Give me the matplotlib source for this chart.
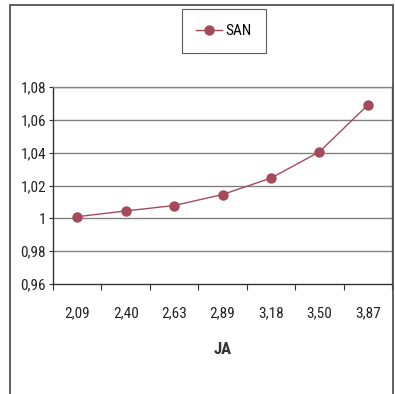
import matplotlib
matplotlib.use("Agg")
import matplotlib.pyplot as plt
from matplotlib.patches import Rectangle
from matplotlib.ticker import FixedLocator

plt.rcParams['font.family'] = ['Roboto Condensed', 'Liberation Sans', 'DejaVu Sans']

categories = ["2,09", "2,40", "2,63", "2,89", "3,18", "3,50", "3,87"]
san = [1.001, 1.0045, 1.0078, 1.0145, 1.0245, 1.0405, 1.069]
yticks = [0.96, 0.98, 1.00, 1.02, 1.04, 1.06, 1.08]
ytick_labels = ["0,96", "0,98", "1", "1,02", "1,04", "1,06", "1,08"]
series_name = "SAN"
xlabel = "JA"

W, H = 395, 394
fig = plt.figure(figsize=(W / 100, H / 100), dpi=100)
ax = fig.add_axes([53 / W, 1 - 284 / H, (392 - 53) / W, (284 - 87) / H])

color = "#A34B5B"
x = list(range(len(categories)))
line, = ax.plot(x, san, color=color, lw=1.0, marker="o", markersize=6.5,
                markerfacecolor=color, markeredgecolor=color, label=series_name, zorder=3)

ax.set_xlim(-0.5, len(categories) - 0.5)
ax.set_ylim(yticks[0], yticks[-1])
ax.set_yticks(yticks)
ax.set_yticklabels(ytick_labels)
for v in yticks[1:]:
    ax.axhline(v, color="#808080", lw=1.0, zorder=1)

ax.xaxis.set_major_locator(FixedLocator([i - 0.5 for i in range(len(categories) + 1)]))
ax.set_xticklabels([])
ax.xaxis.set_minor_locator(FixedLocator(x))
ax.set_xticks(x, minor=True)
ax.set_xticklabels(categories, minor=True)
ax.tick_params(axis="x", which="minor", length=0, pad=16, labelsize=11, colors="#222222")
ax.tick_params(axis="x", which="major", length=4, direction="out", color="#333333")
ax.tick_params(axis="y", length=3, direction="out", pad=2, labelsize=11, color="#333333", labelcolor="#222222")

for s in ["top", "right"]:
    ax.spines[s].set_color("#8a8580")
    ax.spines[s].set_linewidth(1.0)
for s in ["left", "bottom"]:
    ax.spines[s].set_color("#333333")
    ax.spines[s].set_linewidth(1.0)

ax.set_xlabel(xlabel, fontsize=12, fontweight="bold", labelpad=16, color="#333333")

leg = fig.legend(handles=[line], loc="center", bbox_to_anchor=(224 / W, 1 - 31 / H),
                 fontsize=11, frameon=True, fancybox=False, handlelength=1.7,
                 handletextpad=0.2, borderpad=0.95, borderaxespad=0)
leg.get_frame().set_edgecolor("#333333")
leg.get_frame().set_linewidth(0.8)

fig.patches.append(Rectangle((9.5 / W, -0.1), (392.5 - 9.5) / W, 1.1 - 5.5 / H,
                             transform=fig.transFigure, fill=False,
                             edgecolor="#444444", lw=1.2, clip_on=False))

fig.savefig("out.png", dpi=100)
